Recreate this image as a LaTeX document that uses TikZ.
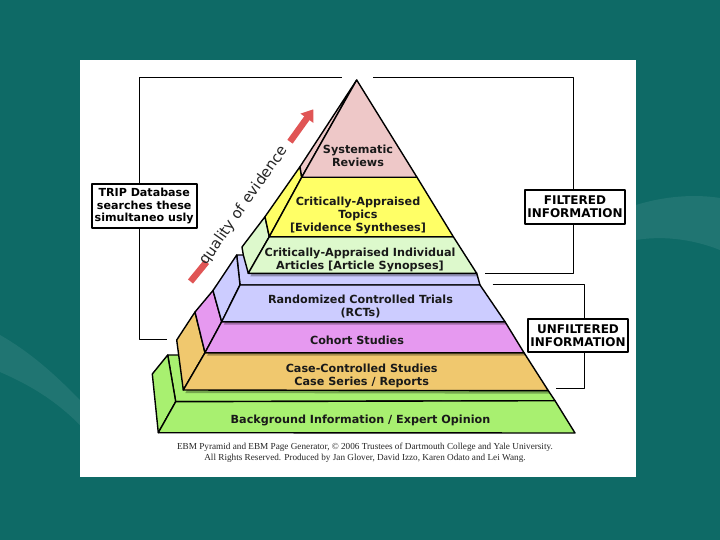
\documentclass[tikz,border=0pt]{standalone}
\usepackage{fontspec}
\setmainfont{DejaVu Sans}
\newfontfamily\credfont{Liberation Serif}
\usetikzlibrary{arrows.meta}
\definecolor{bgteal}{HTML}{0E6A66}
\definecolor{pinkc}{HTML}{EEC8C8}
\definecolor{yellowc}{HTML}{FFFF66}
\definecolor{caic}{HTML}{DDF9CC}
\definecolor{lavc}{HTML}{CCCCFF}
\definecolor{violc}{HTML}{E699F0}
\definecolor{orngc}{HTML}{F0C86E}
\definecolor{grnc}{HTML}{A8F070}
\definecolor{arrred}{HTML}{E05555}
\begin{document}
\begin{tikzpicture}[x=1pt,y=-1pt,line join=round,
  face/.style={draw=black,line width=1.4pt},
  shade3/.style={fill=black,opacity=0.3,shift={(2,3)}},
  lbl/.style={font=\bfseries\fontsize{11.2}{13}\selectfont,align=center,text=black!90,inner sep=0pt},
  infobox/.style={draw=black,line width=1.6pt,fill=white,align=center,inner sep=2pt,
    font=\bfseries\fontsize{12}{13.3}\selectfont},
  bracket/.style={draw=black,line width=0.9pt}]
\useasboundingbox (0,0) rectangle (720,540);
% slide background
\fill[bgteal] (0,0) rectangle (720,540);
\fill[white,opacity=0.08] (0,335) .. controls (35,355) and (60,380) .. (80,400) -- (80,425) .. controls (55,400) and (30,385) .. (0,372) -- cycle;
\fill[white,opacity=0.08] (636,205) .. controls (665,196) and (695,194) .. (720,198) -- (720,250) .. controls (690,238) and (660,236) .. (636,240) -- cycle;
% white panel
\fill[white] (80,60) rectangle (636,477);

% ---------- pyramid ----------
% background information (green)
\filldraw[face,fill=grnc] (167.7,355) -- (500,355) -- (548.3,390.7) -- (555,400.7) -- (175.7,401.7) -- cycle;
\filldraw[face,fill=grnc] (167.7,355) -- (175.7,401.7) -- (158.3,432.7) -- (152.3,374) -- cycle;
\filldraw[face,fill=grnc] (175.7,401.7) -- (555,400.7) -- (575,433) -- (158.3,432.7) -- cycle;
% case-controlled (orange)
\filldraw[face,fill=orngc] (195,312) -- (205,352.7) -- (183.3,390) -- (176.7,340) -- cycle;
\fill[shade3] (205,352.7) -- (524,352.7) -- (548.3,390.7) -- (183.3,390) -- cycle;
\filldraw[face,fill=orngc] (205,352.7) -- (524,352.7) -- (548.3,390.7) -- (183.3,390) -- cycle;
% cohort (violet)
\filldraw[face,fill=violc] (213,290.5) -- (221.7,321.7) -- (205,352.7) -- (195,312) -- cycle;
\fill[shade3] (221.7,321.7) -- (505,321.7) -- (524,352.7) -- (205,352.7) -- cycle;
\filldraw[face,fill=violc] (221.7,321.7) -- (505,321.7) -- (524,352.7) -- (205,352.7) -- cycle;
% RCT (lavender)
\filldraw[face,fill=lavc] (236.7,255) -- (440,255) -- (476.7,273.3) -- (480,285) -- (240,285) -- cycle;
\filldraw[face,fill=lavc] (236.7,255) -- (240,285) -- (221.7,321.7) -- (213,290.5) -- cycle;
\fill[shade3] (240,285) -- (480,285) -- (505,321.7) -- (221.7,321.7) -- cycle;
\filldraw[face,fill=lavc] (240,285) -- (480,285) -- (505,321.7) -- (221.7,321.7) -- cycle;
% critically-appraised individual articles (light green)
\filldraw[face,fill=caic] (265,216.7) -- (269.3,236.7) -- (248.3,273.3) -- (243.3,255) -- (242,247) -- cycle;
\fill[shade3] (269.3,236.7) -- (453.3,236.7) -- (476.7,273.3) -- (248.3,273.3) -- cycle;
\filldraw[face,fill=caic] (269.3,236.7) -- (453.3,236.7) -- (476.7,273.3) -- (248.3,273.3) -- cycle;
% critically-appraised topics (yellow)
\filldraw[face,fill=yellowc] (300,166.7) -- (301.7,177.3) -- (269.3,236.7) -- (265,216.7) -- cycle;
\filldraw[face,fill=yellowc] (301.7,177.3) -- (417,177.3) -- (453.3,236.7) -- (269.3,236.7) -- cycle;
% systematic reviews (pink)
\filldraw[face,fill=pinkc] (356.7,80) -- (301.7,177.3) -- (300,166.7) -- cycle;
\filldraw[face,fill=pinkc] (356.7,80) -- (417,177.3) -- (301.7,177.3) -- cycle;

% ---------- pyramid labels ----------
\node[lbl] (sr) at (358,156.3) {Systematic\\Reviews};
\node[lbl] (cat) at (358,215.3) {Critically-Appraised\\Topics\\{[}Evidence Syntheses{]}};
\node[lbl] (cai) at (360,259.6) {Critically-Appraised Individual\\Articles {[}Article Synopses{]}};
\node[lbl] (rct) at (360.5,306.6) {Randomized Controlled Trials\\{(}RCTs)};
\node[lbl] (coh) at (357,340) {Cohort Studies};
\node[lbl] (ccs) at (361.7,375.6) {Case-Controlled Studies\\Case Series / Reports};
\node[lbl] (bg) at (360.5,420) {Background Information / Expert Opinion};

% ---------- quality of evidence ----------
\draw[line width=6.5pt,draw=arrred] (190.5,281.5) -- (206.5,262);
\draw[line width=6.5pt,draw=arrred,-{Triangle[width=15pt,length=11pt]}] (290,141.7) -- (313.3,109.3);
\node[rotate=55,font=\fontsize{14.8}{16}\selectfont,text=black!85,inner sep=0pt] (qual) at (244,205.5) {quality of evidence};

% ---------- brackets and boxes ----------
\node[infobox,font=\bfseries\fontsize{11.1}{12.9}\selectfont,minimum width=105pt,minimum height=44pt] (trip) at (144.2,206) {TRIP Database\\searches these\\simultaneo usly};
\coordinate (tA) at (139.3,77.3);
\coordinate (tB) at (341.7,77.3);
\coordinate (tC) at (139.3,339.5);
\coordinate (tD) at (167,339.5);
\draw[bracket] (tB) -- (tA) -- (tA |- trip.north);
\draw[bracket] (tA |- trip.south) -- (tC) -- (tD);

\node[infobox,minimum width=100pt,minimum height=34pt] (filt) at (575,207) {FILTERED\\INFORMATION};
\coordinate (fA) at (373.3,77.3);
\coordinate (fB) at (573.3,77.3);
\coordinate (fC) at (573.3,273.3);
\coordinate (fD) at (485,273.3);
\draw[bracket] (fA) -- (fB) -- (fB |- filt.north);
\draw[bracket] (fC |- filt.south) -- (fC) -- (fD);

\node[infobox,font=\bfseries\fontsize{12}{12.5}\selectfont,minimum width=100pt,minimum height=32.5pt] (unf) at (578,335.5) {UNFILTERED\\INFORMATION};
\coordinate (uA) at (492.7,284.3);
\coordinate (uB) at (584.3,284.3);
\coordinate (uC) at (584.3,388.3);
\coordinate (uD) at (556,388.3);
\draw[bracket] (uA) -- (uB) -- (uB |- unf.north);
\draw[bracket] (uC |- unf.south) -- (uC) -- (uD);

% ---------- credits ----------
\node[font=\credfont\fontsize{9.2}{11}\selectfont,align=center,text=black!85,inner sep=0pt] (cred) at (365,453) {EBM Pyramid and EBM Page Generator, © 2006 Trustees of Dartmouth College and Yale University.\\All Rights Reserved. Produced by Jan Glover, David Izzo, Karen Odato and Lei Wang.};
\end{tikzpicture}
\end{document}
